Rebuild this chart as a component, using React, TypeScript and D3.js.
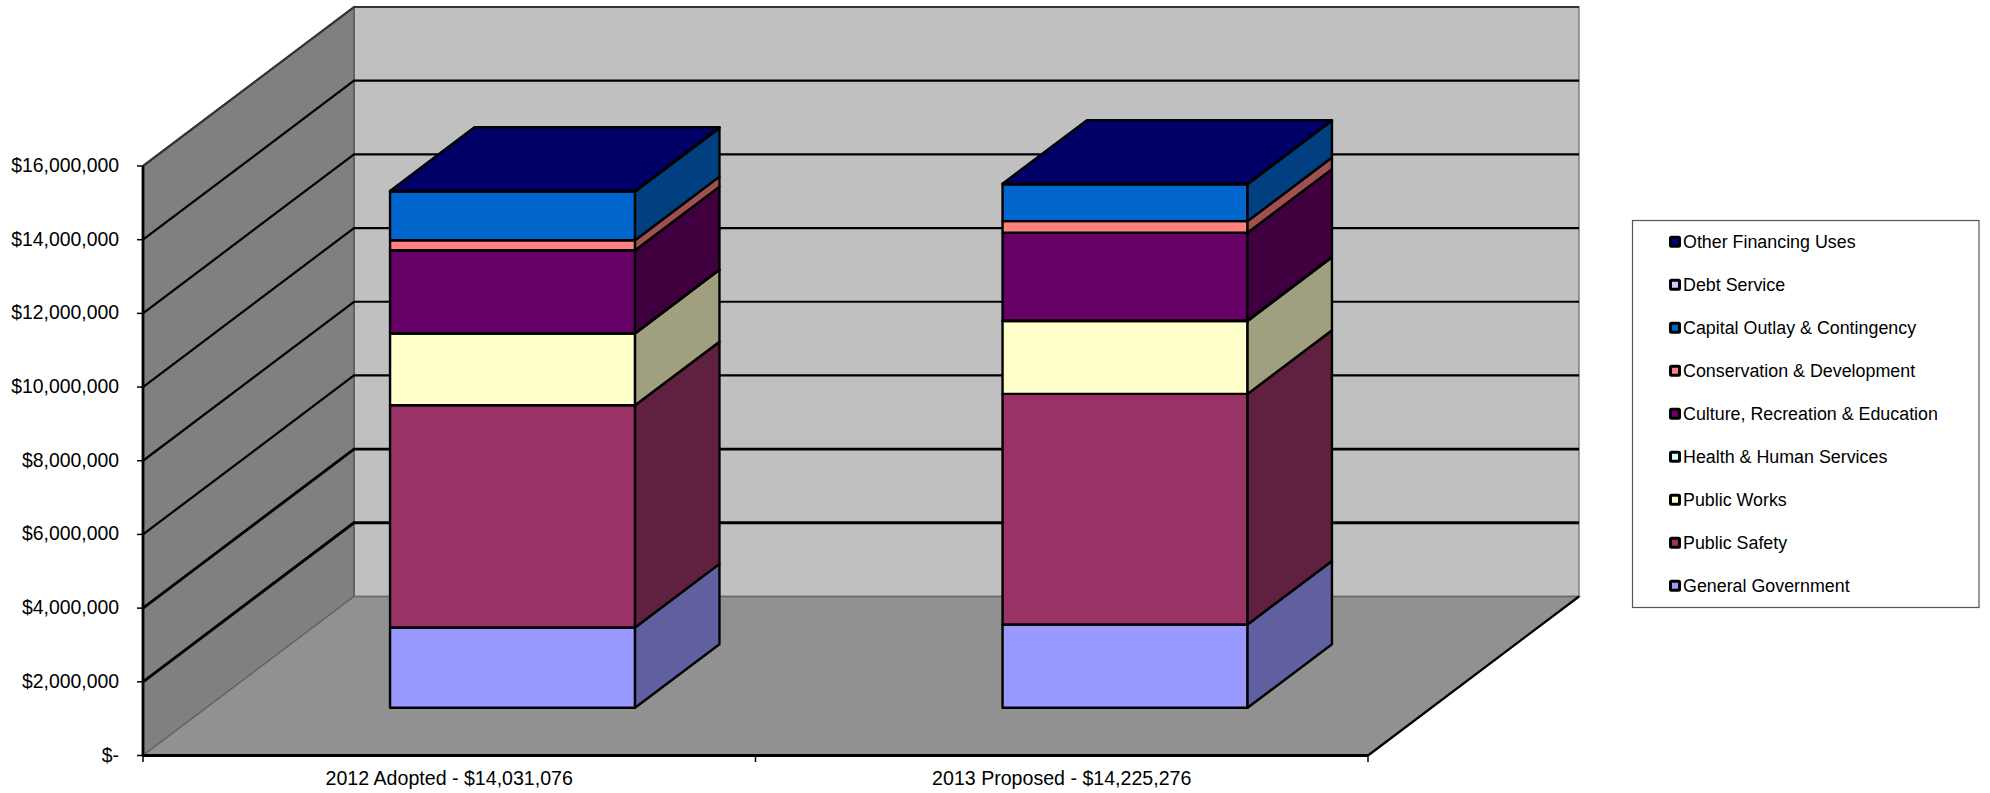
import React from "react";
import * as d3 from "d3";

// Budget appropriations by function, stacked bottom to top.
const years = ["2012 Adopted - $14,031,076", "2013 Proposed - $14,225,276"];
const seriesNames = [
  "General Government",
  "Public Safety",
  "Public Works",
  "Health & Human Services",
  "Culture, Recreation & Education",
  "Conservation & Development",
  "Capital Outlay & Contingency",
  "Debt Service",
  "Other Financing Uses",
];
const adopted2012 = [2180000, 6030000, 1950000, 10000, 2250000, 270000, 1320000, 0, 21076];
const proposed2013 = [2260000, 6260000, 1980000, 15000, 2380000, 315000, 1000000, 0, 15276];
const seriesColors = ["#9999FF", "#993366", "#FFFFCC", "#CCFFFF", "#660066", "#FF8080", "#0066CC", "#CCCCFF", "#000080"];
const axisTicks = [0, 2000000, 4000000, 6000000, 8000000, 10000000, 12000000, 14000000, 16000000];

const FONT = "'Liberation Sans', Arial, sans-serif";
const DEPTH_X = 211;
const DEPTH_Y = -159;
const BAR_SHARE = 0.4;
const BAR_DEPTH_FROM = 0.3;
const BAR_DEPTH_TO = 0.7;

const xBand = d3.scaleBand<string>().domain(years).range([143, 1368]);
const yScale = d3.scaleLinear().domain([0, 16000000]).range([755.5, 166]);

// Maps a point on the front plane plus a depth fraction into the oblique view.
const project = (x: number, value: number, depth: number): [number, number] => [
  x + DEPTH_X * depth,
  yScale(value) + DEPTH_Y * depth,
];
const outline = d3.line<[number, number]>();
const poly = (points: [number, number][]) => outline(points) + "Z";
const shade = (color: string, k: number) => {
  const c = d3.rgb(color);
  return d3.rgb(c.r * k, c.g * k, c.b * k).formatHex();
};

const rows = years.map((year, i) => {
  const row: Record<string, number | string> = { year };
  const values = i === 0 ? adopted2012 : proposed2013;
  seriesNames.forEach((name, j) => (row[name] = values[j]));
  return row;
});
const stacked = d3.stack<any>().keys(seriesNames)(rows);

const [x0, x1] = xBand.range();
const top = axisTicks[axisTicks.length - 1];
const formatMoney = (v: number) => (v === 0 ? "$-" : d3.format("$,")(v));

function Bar({ year, index }: { year: string; index: number }) {
  const barW = xBand.bandwidth() * BAR_SHARE;
  const left = xBand(year)! + (xBand.bandwidth() - barW) / 2;
  const right = left + barW;
  const faces = stacked
    .map((layer, s) => ({ s, lo: layer[index][0], hi: layer[index][1] }))
    .filter((f) => f.hi > f.lo);
  const total = faces[faces.length - 1].hi;
  const stroke = { stroke: "#000", strokeWidth: 2.4, strokeLinejoin: "round" as const };
  return (
    <g>
      {faces.map(({ s, lo, hi }) => (
        <g key={s}>
          <path
            d={poly([
              project(left, lo, BAR_DEPTH_FROM),
              project(right, lo, BAR_DEPTH_FROM),
              project(right, hi, BAR_DEPTH_FROM),
              project(left, hi, BAR_DEPTH_FROM),
            ])}
            fill={seriesColors[s]}
            {...stroke}
          />
          <path
            d={poly([
              project(right, lo, BAR_DEPTH_FROM),
              project(right, lo, BAR_DEPTH_TO),
              project(right, hi, BAR_DEPTH_TO),
              project(right, hi, BAR_DEPTH_FROM),
            ])}
            fill={shade(seriesColors[s], 0.627)}
            {...stroke}
          />
        </g>
      ))}
      <path
        d={poly([
          project(left, total, BAR_DEPTH_FROM),
          project(right, total, BAR_DEPTH_FROM),
          project(right, total, BAR_DEPTH_TO),
          project(left, total, BAR_DEPTH_TO),
        ])}
        fill="#000066"
        {...stroke}
      />
    </g>
  );
}

function Legend() {
  const order = seriesNames.map((_, i) => i).reverse();
  const rowY = d3.scalePoint<number>().domain(order).range([241.7, 585.7]);
  return (
    <g fontFamily={FONT} fontSize={17.85} fill="#000">
      <rect x={1632.5} y={220.5} width={346.5} height={387} fill="#fff" stroke="#555" strokeWidth={1.2} />
      {order.map((s) => (
        <g key={s}>
          <rect
            x={1670.5}
            y={rowY(s)! - 4.5}
            width={9}
            height={9}
            rx={1}
            fill={seriesColors[s]}
            stroke="#000"
            strokeWidth={3}
          />
          <text x={1683} y={rowY(s)! + 6}>
            {seriesNames[s]}
          </text>
        </g>
      ))}
    </g>
  );
}

export default function App() {
  return (
    <svg
      width={1990}
      height={793}
      viewBox="0 0 1990 793"
      style={{ position: "absolute", left: 0, top: 0, display: "block", background: "#fff" }}
    >
      {/* Back wall, side wall and floor of the chart box */}
      <path
        d={poly([project(x0, 0, 1), project(x1, 0, 1), project(x1, top, 1), project(x0, top, 1)])}
        fill="#C0C0C0"
        stroke="#808080"
        strokeWidth={1.5}
      />
      <path
        d={poly([project(x0, 0, 0), project(x0, 0, 1), project(x0, top, 1), project(x0, top, 0)])}
        fill="#808080"
        stroke="#555"
        strokeWidth={1.5}
      />
      <path
        d={poly([project(x0, 0, 0), project(x1, 0, 0), project(x1, 0, 1), project(x0, 0, 1)])}
        fill="#919191"
        stroke="#666"
        strokeWidth={1.5}
      />

      {/* Gridlines wrap from the value axis across the side wall and back wall */}
      {axisTicks
        .filter((t) => t > 0)
        .map((t) => (
          <path
            key={t}
            d={outline([project(x0, t, 0), project(x0, t, 1), project(x1, t, 1)])!}
            fill="none"
            stroke={t === top ? "#333" : "#000"}
            strokeWidth={t === 2000000 || t === 4000000 ? 2.9 : 2.2}
          />
        ))}

      {/* Floor edges and axes */}
      <path d={outline([project(x1, 0, 0), project(x1, 0, 1)])!} stroke="#000" strokeWidth={2.2} fill="none" />
      <path d={outline([project(x0, 0, 0), project(x1, 0, 0)])!} stroke="#000" strokeWidth={3} fill="none" />
      <path d={outline([project(x0, 0, 0), project(x0, top, 0)])!} stroke="#000" strokeWidth={2.8} fill="none" />

      {years.map((year, i) => (
        <Bar key={year} year={year} index={i} />
      ))}

      {/* Value axis */}
      <g fontFamily={FONT} fontSize={19.4} fill="#000">
        {axisTicks.map((t) => (
          <g key={t}>
            <line x1={137} x2={x0} y1={yScale(t)} y2={yScale(t)} stroke="#000" strokeWidth={1.5} />
            <text x={119} y={yScale(t) + 6} textAnchor="end">
              {formatMoney(t)}
            </text>
          </g>
        ))}
      </g>

      {/* Category axis */}
      <g fontFamily={FONT} fontSize={19.6} fill="#000">
        {[x0, x0 + xBand.bandwidth(), x1].map((x) => (
          <line key={x} x1={x} x2={x} y1={755.5} y2={762} stroke="#000" strokeWidth={1.5} />
        ))}
        {years.map((year) => (
          <text key={year} x={xBand(year)! + xBand.bandwidth() / 2} y={784.5} textAnchor="middle">
            {year}
          </text>
        ))}
      </g>

      <Legend />
    </svg>
  );
}
